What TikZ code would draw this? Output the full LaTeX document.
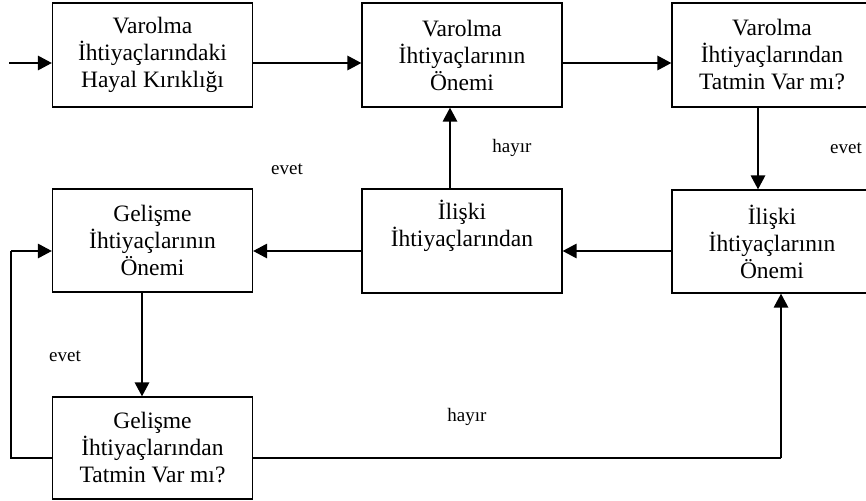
\documentclass[tikz,border=0pt]{standalone}
\usepackage{fontspec}
\setmainfont{Liberation Serif}
\usetikzlibrary{arrows.meta}
\begin{document}
\begin{tikzpicture}[x=1pt,y=-1pt,
  box/.style={draw, line width=1.1pt, minimum width=200pt, inner sep=0pt,
    align=center, font=\fontsize{23.5}{27}\selectfont},
  flow/.style={line width=2.8pt, -{Triangle[length=14pt,width=14pt]}},
  plain/.style={line width=1.1pt},
  lbl/.style={font=\fontsize{19}{22}\selectfont, inner sep=0pt}]
\useasboundingbox (0,0) rectangle (866,500);

% boxes
\node[box, minimum height=104pt] (vh) at (152.5,55) {Varolma\\İhtiyaçlarındaki\\Hayal Kırıklığı};
\node[box, minimum height=104pt] (vo) at (462,55) {Varolma\\İhtiyaçlarının\\Önemi};
\node[box, minimum height=104pt] (vt) at (772,55) {Varolma\\İhtiyaçlarından\\Tatmin Var mı?};
\node[box, minimum height=103pt] (go) at (152.5,240.5) {Gelişme\\İhtiyaçlarının\\Önemi};
\node[box, minimum height=104pt] (ii) at (462,241) {İlişki\\İhtiyaçlarından\\\strut};
\node[box, minimum height=103pt] (io) at (772,241.5) {İlişki\\İhtiyaçlarının\\Önemi};
\node[box, minimum height=102pt] (gt) at (152.5,448) {Gelişme\\İhtiyaçlarından\\Tatmin Var mı?};

% free ends and corners
\coordinate (start) at (9,63);
\coordinate (lc1) at (11,458);
\coordinate (lc2) at (11,251);
\coordinate (rc) at (781,458);

% connectors
\draw[flow] (start) -- (vh.west |- start);
\draw[flow] (vh.east |- start) -- (vo.west |- start);
\draw[flow] (vo.east |- start) -- (vt.west |- start);
\draw[flow] (vt.south -| 758,0) -- (io.north -| 758,0);
\draw[flow] (io.west |- lc2) -- (ii.east |- lc2);
\draw[flow] (ii.west |- lc2) -- (go.east |- lc2);
\draw[flow] (ii.north -| 450,0) -- (vo.south -| 450,0);
\draw[flow] (go.south -| 142,0) -- (gt.north -| 142,0);
\draw[plain] (gt.west |- lc1) -- (lc1) -- (lc2);
\draw[flow] (lc2) -- (go.west |- lc2);
\draw[plain] (gt.east |- rc) -- (rc);
\draw[flow] (rc) -- (io.south -| rc);

% labels
\node[lbl] (l1) at (512,148) {hayır};
\node[lbl] (l2) at (846,148) {evet};
\node[lbl] (l3) at (287,169) {evet};
\node[lbl] (l4) at (65,356) {evet};
\node[lbl] (l5) at (467,417) {hayır};
\end{tikzpicture}
\end{document}
